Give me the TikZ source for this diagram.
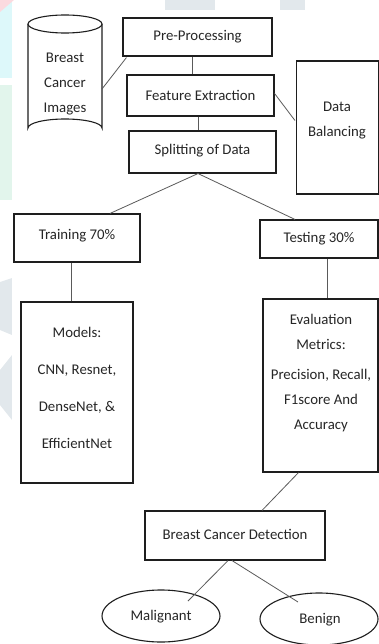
\documentclass[tikz,border=0pt]{standalone}
\usepackage{fontspec}
\setmainfont{Carlito}
\usetikzlibrary{shapes.geometric,calc}
\definecolor{boxline}{HTML}{1E1E1E}
\definecolor{conn}{HTML}{5A5A5A}
\definecolor{wmcyan}{HTML}{DDF8FA}
\definecolor{wmpink}{HTML}{FBDADF}
\definecolor{wmgreen}{HTML}{E2F5EC}
\definecolor{wmgray}{HTML}{E2E8EC}
\tikzset{
  boxnode/.style={draw=boxline, line width=1.1pt, fill=white, inner sep=0pt},
  txt/.style={font=\fontsize{14.8}{25}\selectfont, align=center, text=black!85},
  connector/.style={draw=conn, line width=0.8pt},
  ovalnode/.style={draw=boxline, line width=1.1pt, ellipse, inner sep=0pt, fill=white},
}
\begin{document}
\begin{tikzpicture}[x=1pt,y=-1pt]
\useasboundingbox (0,0) rectangle (379,644);
% faint background watermark
\fill[wmcyan] (0,0) rectangle (12,78);
\fill[wmpink] (0,0) -- (14,0) -- (0,12) -- cycle;
\fill[wmgreen] (0,85) rectangle (12,200);
\fill[wmgray] (0,282) -- (12,278) -- (12,335) -- (0,330) -- cycle;
\fill[wmgray] (0,370) -- (12,355) -- (12,420) -- (0,405) -- cycle;
\fill[wmgray] (165,0) rectangle (215,10);
\fill[wmgray] (280,0) rectangle (305,10);
\fill[white] (12,11) rectangle (379,644);

% cylinder
\node (db) [minimum width=74pt, minimum height=122pt, inner sep=0pt] at (65,76) {};
\draw[boxline, line width=1.1pt, fill=white] (28,24) -- (28,128) arc[start angle=180, end angle=360, x radius=37, y radius=9] -- (102,24);
\draw[boxline, line width=1.1pt, fill=white] (65,24) ellipse[x radius=37, y radius=9];
\node (dbtxt) [txt] at (65,84) {Breast\\Cancer\\Images};

% boxes
\node (pre) [boxnode, minimum width=149pt, minimum height=38pt] at (197.5,37) {};
\node (pretxt) [txt] at (197.5,37) {Pre-Processing};
\node (feat) [boxnode, minimum width=147pt, minimum height=41pt] at (200.5,95.5) {};
\node (feattxt) [txt] at (200.5,95) {Feature Extraction};
\node (split) [boxnode, minimum width=147pt, minimum height=42pt] at (202.5,152) {};
\node (splittxt) [txt] at (202.5,151) {Splitting of Data};
\node (bal) [boxnode, minimum width=82pt, minimum height=133pt] at (337.5,127.5) {};
\node (baltxt) [txt] at (337,121) {Data\\Balancing};
\node (train) [boxnode, minimum width=126pt, minimum height=48pt] at (77,238) {};
\node (traintxt) [txt] at (77,236) {Training 70\%};
\node (test) [boxnode, minimum width=118pt, minimum height=38pt] at (319,239) {};
\node (testtxt) [txt] at (319,239) {Testing 30\%};
\node (models) [boxnode, minimum width=112pt, minimum height=181pt] at (77,392.5) {};
\node (modelstxt) [txt, font=\fontsize{14.8}{37}\selectfont] at (77,388) {Models:\\CNN, Resnet,\\DenseNet, \&\\EfficientNet};
\node (eval) [boxnode, minimum width=115pt, minimum height=173pt] at (320.5,385.5) {};
\node (evaltxt) [txt] at (321,373) {Evaluation\\Metrics:\\[5pt]Precision, Recall,\\F1score And\\Accuracy};
\node (bcd) [boxnode, minimum width=180pt, minimum height=49pt] at (235,535.5) {};
\node (bcdtxt) [txt] at (235,534) {Breast Cancer Detection};
\node (mal) [ovalnode, minimum width=118pt, minimum height=52pt] at (161,616) {};
\node (maltxt) [txt] at (161,617) {Malignant};
\node (ben) [ovalnode, minimum width=118pt, minimum height=52pt] at (319,619) {};
\node (bentxt) [txt] at (320,620) {Benign};

% helper coordinates
\coordinate (x192) at (192,0);
\coordinate (x198) at (198,0);
\coordinate (x71) at (71,0);
\coordinate (x327) at (327,0);
\coordinate (dbR) at (102,89);
\coordinate (malEnd) at (188,601);
\coordinate (benEnd) at (298,602);

% connectors
\draw[connector] (dbR) -- ($(pre.south west)+(4,1)$);
\draw[connector] (pre.south -| x192) -- (feat.north -| x192);
\draw[connector] (feat.south -| x198) -- (split.north -| x198);
\draw[connector] ($(feat.east)+(0,-2)$) -- ($(bal.west)+(-1,-7)$);
\draw[connector] (split.south -| x198) -- ($(train.north)+(33,0)$);
\draw[connector] (split.south -| x198) -- ($(test.north)+(-24,0)$);
\draw[connector] (train.south -| x71) -- (models.north -| x71);
\draw[connector] (test.south -| x327) -- (eval.north -| x327);
\draw[connector] ($(eval.south)+(-22,0)$) -- ($(bcd.north)+(27,0)$);
\draw[connector] ($(bcd.south)+(-7,0)$) -- (malEnd);
\draw[connector] ($(bcd.south)+(-3,0)$) -- (benEnd);
\end{tikzpicture}
\end{document}
